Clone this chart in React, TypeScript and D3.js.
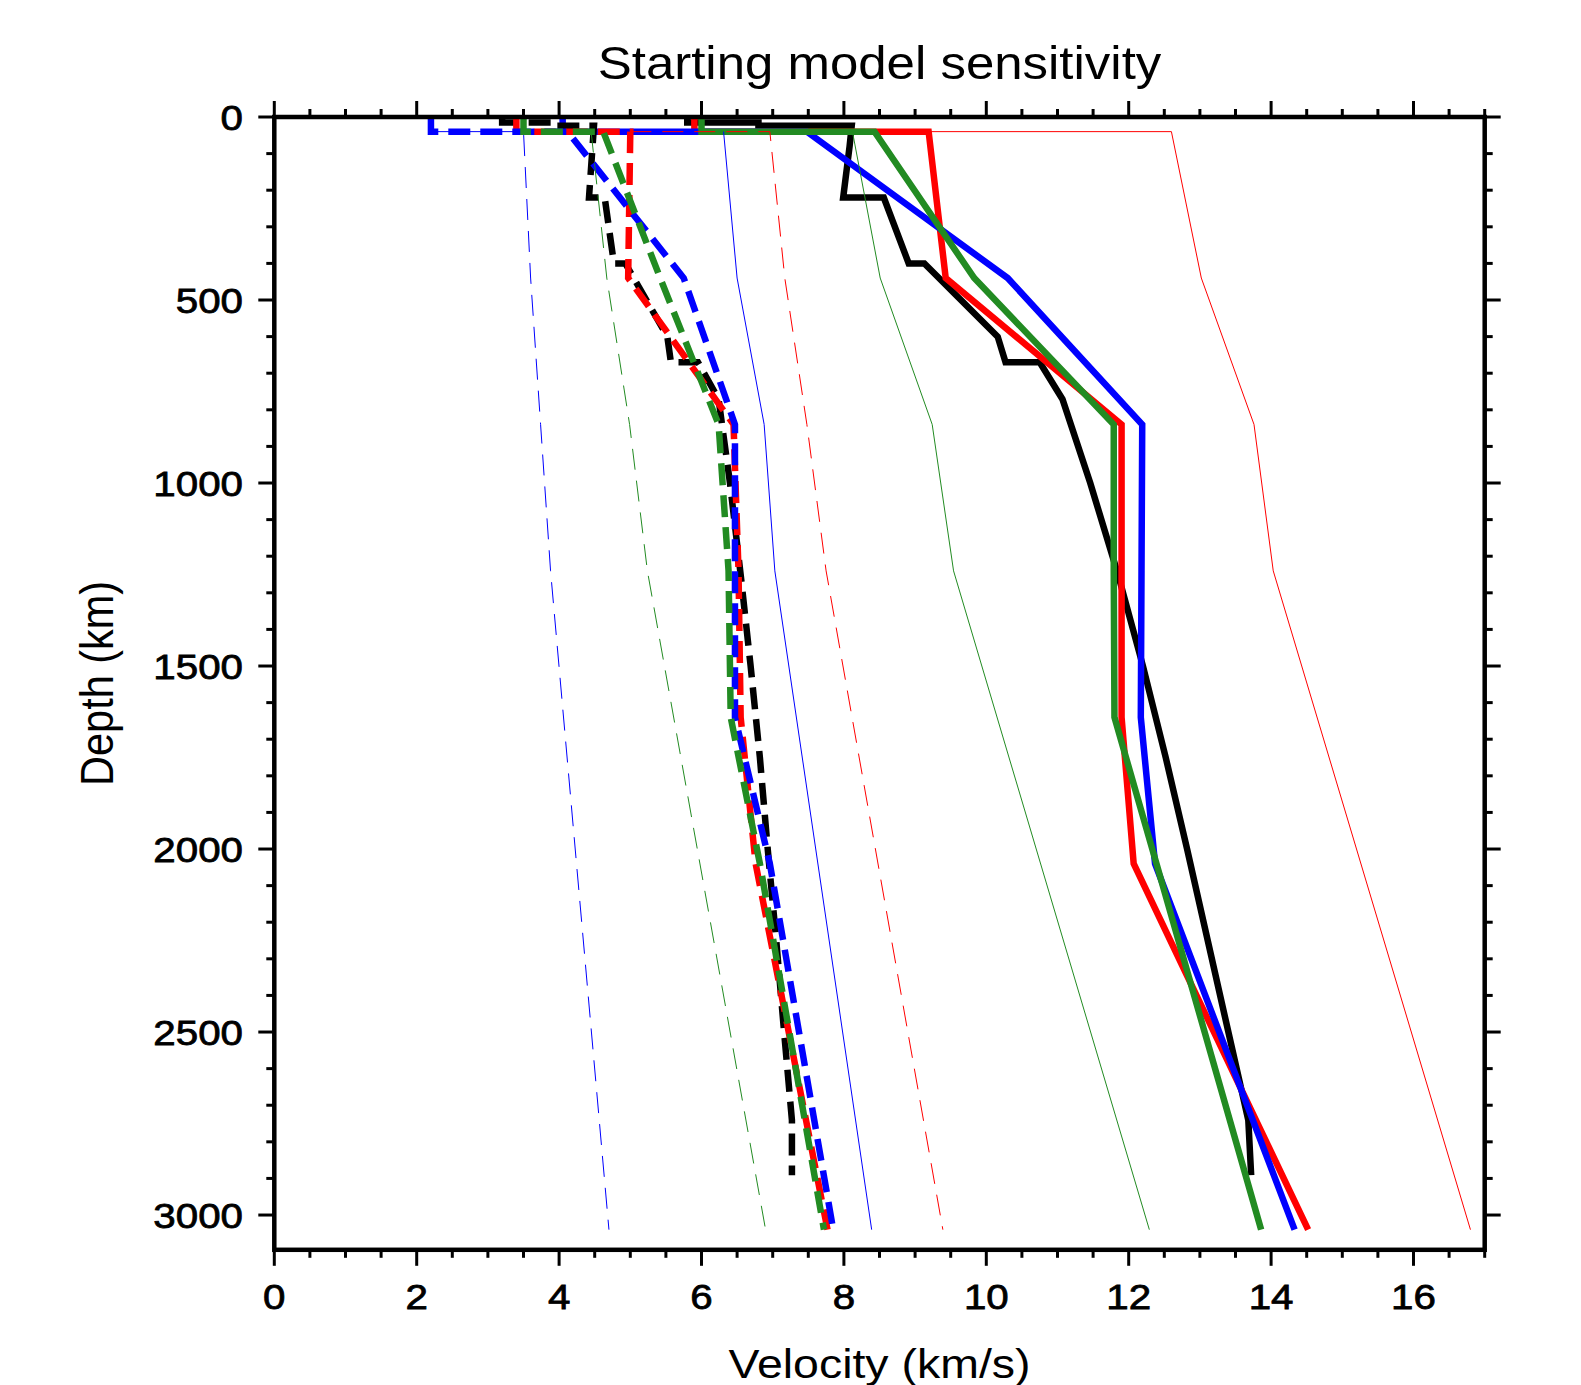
import React, { useEffect, useRef } from 'react';
import * as d3 from 'd3';

// depth nodes (km) of the three starting models
const modelDepths = [0, 40, 40, 440, 840, 1240, 1640, 2040, 3040];
const redVp = [5.9, 5.9, 9.19, 9.43, 11.9, 11.9, 11.9, 12.07, 14.52];
const blueVp = [4.05, 4.05, 7.48, 10.3, 12.19, 12.18, 12.17, 12.37, 14.33];
const greenVp = [6.0, 6.0, 8.43, 9.83, 11.79, 11.79, 11.8, 12.39, 13.86];
const redVs = [3.4, 3.4, 5.0, 4.97, 6.45, 6.52, 6.55, 6.76, 7.77];
const blueVs = [2.2, 2.2, 4.12, 5.75, 6.47, 6.47, 6.47, 6.96, 7.85];
const greenVs = [3.5, 3.5, 4.62, 5.42, 6.24, 6.38, 6.41, 6.82, 7.72];

// reference earth model (black)
const refDepths = [0, 15, 15, 24, 24, 80, 220, 220, 400, 400, 600, 670, 670, 771, 1000, 1250, 1500, 1750, 2000, 2250, 2500, 2741, 2891];
const refVp = [5.8, 5.8, 6.8, 6.8, 8.11, 8.08, 7.99, 8.56, 8.91, 9.13, 10.16, 10.27, 10.75, 11.07, 11.46, 11.85, 12.2, 12.52, 12.82, 13.11, 13.4, 13.68, 13.72];
const refVs = [3.2, 3.2, 3.9, 3.9, 4.49, 4.47, 4.42, 4.64, 4.77, 4.93, 5.52, 5.57, 5.95, 6.24, 6.4, 6.55, 6.69, 6.82, 6.93, 7.05, 7.16, 7.27, 7.27];

// thin bound curves
const boundDepths = [40, 40, 440, 840, 1240, 3040];
const redVpBound = [9.19, 12.6, 13.02, 13.76, 14.03, 16.8];
const redVsBound = [5.0, 6.96, 7.17, 7.48, 7.75, 9.39];
const blueVpBound = [6.31, 6.31, 6.5, 6.88, 7.03, 8.39];
const blueVsBound = [2.2, 3.5, 3.6, 3.74, 3.88, 4.7];
const greenVpBound = [8.12, 8.12, 8.51, 9.24, 9.54, 12.29];
const greenVsBound = [4.45, 4.45, 4.67, 4.99, 5.24, 6.9];

const xLabels = [0, 2, 4, 6, 8, 10, 12, 14, 16];
const yLabels = [0, 500, 1000, 1500, 2000, 2500, 3000];

const RED = '#ff0000';
const BLUE = '#0000ff';
const GREEN = '#228b22';
const FONT = "'Liberation Sans', Arial, Helvetica, sans-serif";
const STRETCH = 1.12;

const App = () => {
  const svgRef = useRef(null);

  useEffect(() => {
    const svg = d3.select(svgRef.current);
    svg.selectAll('*').remove();

    const x = d3.scaleLinear().domain([0, 17]).range([274.3, 1484.7]);
    const y = d3.scaleLinear().domain([0, 3095]).range([117, 1249.8]);

    const line = d3.line<[number, number]>()
      .x(d => x(d[0]))
      .y(d => y(d[1]));

    const drawCurve = (vals, depths, color, width, dash) => {
      const pts = vals.map((v, i) => [v, depths[i]] as [number, number]);
      svg.append('path')
        .datum(pts)
        .attr('fill', 'none')
        .attr('stroke', color)
        .attr('stroke-width', width)
        .attr('stroke-linejoin', 'miter')
        .attr('stroke-miterlimit', 4)
        .attr('stroke-dasharray', dash)
        .attr('d', line);
    };

    // thick solid (Vp)
    drawCurve(refVp, refDepths, '#000', 6.5, null);
    drawCurve(redVp, modelDepths, RED, 6.5, null);
    drawCurve(blueVp, modelDepths, BLUE, 6.5, null);
    drawCurve(greenVp, modelDepths, GREEN, 6.5, null);
    // thick dashed (Vs)
    drawCurve(refVs, refDepths, '#000', 6.5, '22,10');
    drawCurve(redVs, modelDepths, RED, 6.5, '22,10');
    drawCurve(blueVs, modelDepths, BLUE, 6.5, '22,10');
    drawCurve(greenVs, modelDepths, GREEN, 6.5, '22,10');
    // thin bounds
    drawCurve(redVpBound, boundDepths, RED, 1, null);
    drawCurve(blueVpBound, boundDepths, BLUE, 1, null);
    drawCurve(greenVpBound, boundDepths, GREEN, 1, null);
    drawCurve(redVsBound, boundDepths, RED, 1, '21,11');
    drawCurve(blueVsBound, boundDepths, BLUE, 1, '21,11');
    drawCurve(greenVsBound, boundDepths, GREEN, 1, '21,11');

    // frame
    const [x0, x1] = x.range();
    const [y0, y1] = y.range();
    svg.append('rect')
      .attr('x', x0).attr('y', y0)
      .attr('width', x1 - x0).attr('height', y1 - y0)
      .attr('fill', 'none').attr('stroke', '#000').attr('stroke-width', 4.5);

    const ticks = svg.append('g').attr('stroke', '#000').attr('stroke-width', 3);
    d3.range(0, 17.001, 0.5).forEach(v => {
      const len = v % 2 === 0 ? 16 : 8;
      ticks.append('line').attr('x1', x(v)).attr('x2', x(v)).attr('y1', y1).attr('y2', y1 + len);
      ticks.append('line').attr('x1', x(v)).attr('x2', x(v)).attr('y1', y0).attr('y2', y0 - len);
    });
    d3.range(0, 3001, 100).forEach(d => {
      const len = d % 500 === 0 ? 16 : 8;
      ticks.append('line').attr('x1', x0).attr('x2', x0 - len).attr('y1', y(d)).attr('y2', y(d));
      ticks.append('line').attr('x1', x1).attr('x2', x1 + len).attr('y1', y(d)).attr('y2', y(d));
    });

    const text = (str, tx, ty, size, anchor, opts = {}) => {
      const t = svg.append('text')
        .attr('transform', opts.rotate
          ? `translate(${tx},${ty}) rotate(-90) scale(1,${STRETCH})`
          : `translate(${tx},${ty}) scale(${STRETCH},1)`)
        .attr('text-anchor', anchor)
        .attr('font-family', FONT)
        .attr('font-size', size)
        .attr('fill', '#000')
        .text(str);
      if (opts.heavy) t.attr('stroke', '#000').attr('stroke-width', 0.8);
      return t;
    };

    xLabels.forEach(v => text(String(v), x(v), 1309, 36, 'middle', { heavy: true }));
    yLabels.forEach(d => text(String(d), 243, y(d) + 13, 36, 'end', { heavy: true }));

    text('Starting model sensitivity', (x0 + x1) / 2, 79, 45.5, 'middle');
    text('Velocity (km/s)', (x0 + x1) / 2, 1378, 41.5, 'middle');
    text('Depth (km)', 113, (y0 + y1) / 2, 41.5, 'middle', { rotate: true });
  }, []);

  return (
    <svg
      ref={svgRef}
      width={1581}
      height={1385}
      style={{ position: 'absolute', left: 0, top: 0, background: '#fff' }}
    />
  );
};

export default App;
